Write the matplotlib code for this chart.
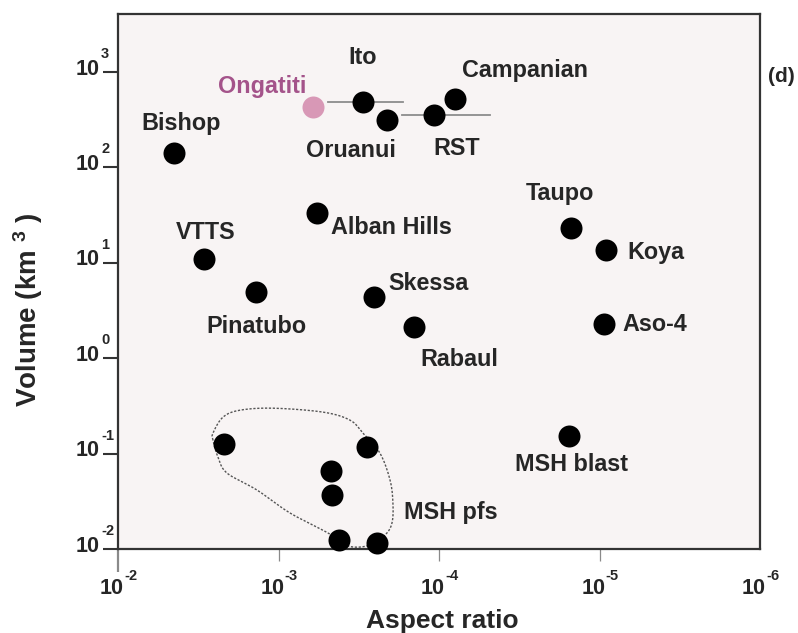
import numpy as np
import matplotlib
matplotlib.use("Agg")
import matplotlib.pyplot as plt
from matplotlib import transforms
from matplotlib.ticker import NullLocator, FixedLocator

plt.rcParams['font.family'] = ['Liberation Sans', 'DejaVu Sans']
plt.rcParams['mathtext.fontset'] = 'custom'
plt.rcParams['mathtext.rm'] = 'Liberation Sans:bold'
plt.rcParams['mathtext.bf'] = 'Liberation Sans:bold'
plt.rcParams['mathtext.default'] = 'bf'

# ---- data: aspect ratio (dimensionless) and volume (km^3) ----
names = ["Bishop", "Ito", "Oruanui", "RST", "Campanian", "Alban Hills", "VTTS",
         "Pinatubo", "Skessa", "Rabaul", "Taupo", "Koya", "Aso-4", "MSH blast"]
aspect = [4.48e-3, 2.98e-4, 2.11e-4, 1.07e-4, 7.94e-5, 5.75e-4, 2.91e-3,
          1.38e-3, 2.54e-4, 1.43e-4, 1.51e-5, 9.12e-6, 9.38e-6, 1.55e-5]
volume = [141, 485, 314, 354, 521, 33.3, 11.0,
          4.94, 4.39, 2.12, 23.2, 13.6, 2.28, 0.153]
# label offsets (pixels) from each marker
label_dx = [7, 0, -36, 22, 70, 74, 2, 0, 54, 45, -11, 50, 51, 3]
label_dy = [30, 44, -31, -33, 29, -15, 26, -34, 13, -32, 34, -2, 0, -29]

# Mount St Helens pyroclastic flows
msh_pfs_aspect = [2.19e-3, 2.81e-4, 4.71e-4, 4.65e-4, 4.20e-4, 2.43e-4]
msh_pfs_volume = [0.126, 0.117, 0.0658, 0.0368, 0.0124, 0.0116]

# Ongatiti ignimbrite
ongatiti_aspect = 6.10e-4
ongatiti_volume = 430

# aspect-ratio ranges (horizontal bars)
ito_range = [4.92e-4, 1.67e-4]
rst_range = [1.70e-4, 4.81e-5]

# outline around the MSH pfs group (log10 aspect, log10 volume)
outline_logx = [-2.592, -2.592, -2.654, -2.760, -2.966, -3.277, -3.445, -3.526,
                -3.632, -3.695, -3.713, -3.707, -3.664, -3.570, -3.464, -3.383,
                -3.308, -3.072, -2.866, -2.679, -2.623]
outline_logy = [-0.859, -0.785, -0.618, -0.545, -0.524, -0.565, -0.649, -0.785,
                -0.995, -1.277, -1.518, -1.728, -1.853, -1.958, -1.979, -1.927,
                -1.832, -1.623, -1.382, -1.204, -1.037]

x_exps = [-2, -3, -4, -5, -6]
y_exps = [-2, -1, 0, 1, 2, 3]


def closed_curve(lx, ly, n=24):
    """Smooth closed Catmull-Rom curve through anchor points (log space)."""
    P = np.column_stack([lx, ly])
    m = len(P)
    t = np.linspace(0, 1, n, endpoint=False)[:, None]
    segs = []
    for i in range(m):
        p0, p1, p2, p3 = P[(i - 1) % m], P[i], P[(i + 1) % m], P[(i + 2) % m]
        segs.append(0.5 * (2 * p1 + (-p0 + p2) * t
                           + (2 * p0 - 5 * p1 + 4 * p2 - p3) * t ** 2
                           + (-p0 + 3 * p1 - 3 * p2 + p3) * t ** 3))
    segs.append(P[:1])
    out = np.vstack(segs)
    return 10 ** out[:, 0], 10 ** out[:, 1]


fig = plt.figure(figsize=(7.98, 6.33), dpi=100)
ax = fig.add_axes([118 / 798, 84 / 633, 642 / 798, 535 / 633])
ax.set_facecolor('#f8f4f4')
ax.set_xscale('log')
ax.set_yscale('log')
ax.set_xlim(10.0 ** x_exps[0], 10.0 ** x_exps[-1])
ax.set_ylim(10.0 ** y_exps[0], 10 ** 3.608)

ink = '#262626'
for s in ax.spines.values():
    s.set_color('#333333')
    s.set_linewidth(1.6)

# range bars
ax.plot(ito_range, [volume[1]] * 2, color='#8c8c8c', lw=1.3, zorder=2)
ax.plot(rst_range, [volume[3]] * 2, color='#8c8c8c', lw=1.3, zorder=2)

# outline
ox, oy = closed_curve(outline_logx, outline_logy)
ax.plot(ox, oy, color='#555555', lw=1.0, ls=(0, (1.6, 1.2)), zorder=2, clip_on=False)

msize = 251
ax.scatter(aspect, volume, s=msize, color='black', zorder=4, linewidths=0)
ax.scatter(msh_pfs_aspect, msh_pfs_volume, s=msize, color='black', zorder=4,
           linewidths=0, clip_on=False)
ax.scatter([ongatiti_aspect], [ongatiti_volume], s=msize, color='#d898b6',
           zorder=4, linewidths=0)

lab_kw = dict(fontsize=16.8, fontweight='bold', ha='center', va='center',
              textcoords='offset pixels', color=ink, zorder=5)
for n, xa, ya, dx, dy in zip(names, aspect, volume, label_dx, label_dy):
    ax.annotate(n, (xa, ya), xytext=(dx, dy), **lab_kw)
ax.annotate("Ongatiti", (ongatiti_aspect, ongatiti_volume), xytext=(-51, 20),
            **{**lab_kw, 'color': '#a4538a'})
ax.annotate("MSH pfs", (msh_pfs_aspect[-1], msh_pfs_volume[-1]), xytext=(74, 30),
            **lab_kw)

# ticks
ax.xaxis.set_major_locator(FixedLocator([10.0 ** e for e in x_exps]))
ax.yaxis.set_major_locator(FixedLocator([10.0 ** e for e in y_exps]))
ax.xaxis.set_minor_locator(NullLocator())
ax.yaxis.set_minor_locator(NullLocator())
ax.set_xticklabels([])
ax.set_yticklabels([])
ax.tick_params(axis='y', direction='out', length=10.8, width=1.5, color='#333333')
ax.tick_params(axis='x', direction='out', length=8.6, width=0.9, color='#8a8a8a')
for tk in ax.xaxis.get_major_ticks():
    loc = tk.get_loc()
    if np.isclose(loc, 1e-2):
        tk.tick1line.set_markersize(16.6)
        tk.tick1line.set_markeredgewidth(1.6)
        tk.tick1line.set_color('#333333')
    elif np.isclose(loc, 1e-6):
        tk.tick1line.set_visible(False)

big = 15.5
small = 10.5
ytr = ax.get_yaxis_transform()
for e in y_exps:
    v = 10.0 ** e
    ax.text(0, v, "10", fontsize=big, fontweight='bold', ha='right', va='center',
            color=ink, clip_on=False,
            transform=transforms.offset_copy(ytr, fig=fig, x=-18, y=3, units='dots'))
    ax.text(0, v, f"{e}", fontsize=small, fontweight='bold', ha='left', va='center',
            color=ink, clip_on=False,
            transform=transforms.offset_copy(ytr, fig=fig, x=-17, y=18, units='dots'))

xtr = ax.get_xaxis_transform()
for e in x_exps:
    v = 10.0 ** e
    ax.text(v, 0, "10", fontsize=big, fontweight='bold', ha='center', va='center',
            color=ink, clip_on=False,
            transform=transforms.offset_copy(xtr, fig=fig, x=-6, y=-40, units='dots'))
    ax.text(v, 0, f"{e}", fontsize=small, fontweight='bold', ha='left', va='center',
            color=ink, clip_on=False,
            transform=transforms.offset_copy(xtr, fig=fig, x=6, y=-27, units='dots'))

fig.text(442 / 798, 1 - 621 / 633, "Aspect ratio", fontsize=19, fontweight='bold',
         ha='center', va='center', color=ink)
fig.text(28 / 798, 1 - 310 / 633, r"Volume (km $^{3}$ )", fontsize=20,
         fontweight='bold', rotation=90, ha='center', va='center', color=ink)
fig.text(768 / 798, 1 - 76 / 633, "(d)", fontsize=15, fontweight='bold',
         ha='left', va='center', color=ink)

fig.savefig("out.png", dpi=100, facecolor='white')
